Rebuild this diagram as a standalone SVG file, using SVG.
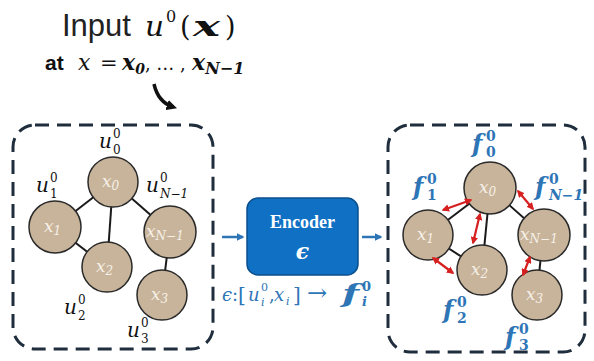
<svg xmlns="http://www.w3.org/2000/svg" width="594" height="361" viewBox="0 0 594 361">
<defs>
<style>
.box{fill:none;stroke:#1F2D3D;stroke-width:3;stroke-dasharray:14 8}
.nd{fill:#C8B49A;stroke:#2A2A2A;stroke-width:1.5}
.nl{font-family:"DejaVu Serif",serif;font-style:italic;fill:#F6F0E8;font-size:17px}
.ns{font-size:12px}
.m{font-family:"DejaVu Serif",serif;font-style:italic;fill:#111}
.f{font-family:"DejaVu Serif",serif;font-style:italic;font-weight:bold;fill:#2E75B6}
.e{stroke:#1A1A1A;stroke-width:2;fill:none}
.r{stroke:#D62020;stroke-width:2.2;fill:none;marker-start:url(#rh);marker-end:url(#rh)}
.b{stroke:#2E75B6;stroke-width:2.5;fill:none;marker-end:url(#bh)}
</style>
<marker id="rh" viewBox="0 0 10 10" refX="8" refY="5" markerWidth="3.4" markerHeight="3.4" orient="auto-start-reverse"><path d="M0,0 L10,5 L0,10 z" fill="#D62020"/></marker>
<marker id="bh" viewBox="0 0 10 10" refX="8" refY="5" markerWidth="3" markerHeight="3" orient="auto"><path d="M0,0 L10,5 L0,10 z" fill="#2E75B6"/></marker>
<marker id="kh" viewBox="0 0 10 10" refX="6" refY="5" markerWidth="3" markerHeight="3" orient="auto"><path d="M0,0 L10,5 L0,10 z" fill="#111"/></marker>
</defs>
<rect width="594" height="361" fill="#fff"/>

<g id="title">
<text x="62" y="36" font-family="Liberation Sans,sans-serif" font-size="31" fill="#222">Input</text>
<text x="145" y="36" class="m" font-size="28" textLength="19" lengthAdjust="spacingAndGlyphs">u</text>
<text x="166" y="22" font-family="DejaVu Serif,serif" font-size="16" fill="#111">0</text>
<text x="180" y="36" font-family="DejaVu Serif,serif" font-size="27" fill="#111">(</text>
<text x="193" y="36" class="m" font-weight="bold" font-size="28" textLength="27" lengthAdjust="spacingAndGlyphs">x</text>
<text x="225" y="36" font-family="DejaVu Serif,serif" font-size="27" fill="#111">)</text>
<text x="45" y="70" font-family="Liberation Sans,sans-serif" font-weight="bold" font-size="21" fill="#111">at</text>
<text x="78" y="70" class="m" font-size="22">x</text>
<text x="100" y="70" font-family="DejaVu Serif,serif" font-size="21" fill="#111">=</text>
<text x="122" y="70" class="m" font-weight="bold" font-size="22">x<tspan font-size="14" dy="4">0</tspan><tspan dy="-4" font-style="normal" font-weight="normal" font-size="18">, … ,</tspan></text>
<text x="192" y="70" class="m" font-weight="bold" font-size="22">x<tspan font-size="16" dy="4">N−1</tspan></text>
<path d="M154,84 Q158,102 173,107" stroke="#111" stroke-width="3.5" fill="none" marker-end="url(#kh)"/>
</g>

<g id="input-graph">
<rect class="box" x="13" y="125" width="200" height="224" rx="22"/>
<g id="connectors-left">
<line class="e" x1="113" y1="182" x2="55" y2="227"/>
<line class="e" x1="113" y1="182" x2="107" y2="267"/>
<line class="e" x1="113" y1="182" x2="170" y2="232"/>
<line class="e" x1="55" y1="227" x2="107" y2="267"/>
<line class="e" x1="170" y1="232" x2="162" y2="295"/>
</g>
<g id="L-x0"><circle class="nd" cx="113" cy="182" r="25"/><text class="nl" x="102" y="187">x<tspan class="ns" dy="3">0</tspan></text></g>
<g id="L-x1"><circle class="nd" cx="55" cy="227" r="26"/><text class="nl" x="44" y="232">x<tspan class="ns" dy="3">1</tspan></text></g>
<g id="L-x2"><circle class="nd" cx="107" cy="267" r="25"/><text class="nl" x="96" y="272">x<tspan class="ns" dy="3">2</tspan></text></g>
<g id="L-xN"><circle class="nd" cx="170" cy="232" r="26"/><text class="nl" x="146" y="237">x<tspan class="ns" dy="3">N−1</tspan></text></g>
<g id="L-x3"><circle class="nd" cx="162" cy="295" r="25"/><text class="nl" x="151" y="300">x<tspan class="ns" dy="3">3</tspan></text></g>
<g id="u-labels" class="m">
<text x="99" y="148" font-size="20">u</text><text x="113" y="138" font-size="12" font-style="normal">0</text><text x="113" y="154" font-size="12" font-style="normal">0</text>
<text x="36" y="192" font-size="20">u</text><text x="50" y="182" font-size="12" font-style="normal">0</text><text x="50" y="198" font-size="12" font-style="normal">1</text>
<text x="146" y="192" font-size="20">u</text><text x="160" y="182" font-size="12" font-style="normal">0</text><text x="160" y="198" font-size="12">N−1</text>
<text x="64" y="314" font-size="20">u</text><text x="78" y="304" font-size="12" font-style="normal">0</text><text x="78" y="320" font-size="12" font-style="normal">2</text>
<text x="127" y="337" font-size="20">u</text><text x="141" y="327" font-size="12" font-style="normal">0</text><text x="141" y="343" font-size="12" font-style="normal">3</text>
</g>
</g>

<g id="encoder">
<rect x="247" y="198" width="111" height="77" rx="11" fill="#0F70C4" stroke="#0B4F8C" stroke-width="1.5"/>
<text x="302.5" y="228" text-anchor="middle" font-family="Liberation Serif,serif" font-weight="bold" font-size="18" fill="#fff">Encoder</text>
<text x="302.5" y="259" text-anchor="middle" font-family="DejaVu Serif,serif" font-style="italic" font-weight="bold" font-size="22" fill="#fff">ϵ</text>
<g font-family="DejaVu Serif,serif" font-size="18" fill="#2E75B6">
<text x="222" y="301" font-style="italic">ϵ</text>
<text x="232" y="301">:</text>
<text x="238" y="302" font-size="20">[</text>
<text x="248" y="301" font-style="italic">u</text>
<text x="261" y="291" font-size="11">0</text><text x="261" y="306" font-size="11" font-style="italic">i</text>
<text x="269" y="301">,</text>
<text x="274" y="301" font-style="italic">x</text>
<text x="286" y="305" font-size="11" font-style="italic">i</text>
<text x="293" y="302" font-size="20">]</text>
<text x="307" y="301" font-size="24">→</text>
<text x="342" y="302" font-size="24" font-style="italic" font-weight="bold" textLength="17" lengthAdjust="spacingAndGlyphs">f</text>
<text x="362" y="291" font-size="13" font-weight="bold">0</text><text x="362" y="306" font-size="13" font-style="italic" font-weight="bold">i</text>
</g>
</g>

<g id="connectors">
<line class="b" x1="222" y1="237" x2="243" y2="237"/>
<line class="b" x1="362" y1="237" x2="381" y2="237"/>
</g>

<g id="output-graph">
<rect class="box" x="388" y="125" width="197" height="227" rx="22"/>
<g id="connectors-right">
<line class="e" x1="490" y1="188" x2="428" y2="235"/>
<line class="e" x1="490" y1="188" x2="482" y2="270"/>
<line class="e" x1="490" y1="188" x2="543" y2="235"/>
<line class="e" x1="428" y1="235" x2="482" y2="270"/>
<line class="e" x1="543" y1="235" x2="537" y2="295"/>
</g>
<g id="R-x0"><circle class="nd" cx="490" cy="188" r="26"/><text class="nl" x="479" y="193">x<tspan class="ns" dy="3">0</tspan></text></g>
<g id="R-x1"><circle class="nd" cx="428" cy="235" r="25"/><text class="nl" x="417" y="240">x<tspan class="ns" dy="3">1</tspan></text></g>
<g id="R-x2"><circle class="nd" cx="482" cy="270" r="25"/><text class="nl" x="471" y="275">x<tspan class="ns" dy="3">2</tspan></text></g>
<g id="R-xN"><circle class="nd" cx="544" cy="235" r="26"/><text class="nl" x="520" y="240">x<tspan class="ns" dy="3">N−1</tspan></text></g>
<g id="R-x3"><circle class="nd" cx="537" cy="295" r="25"/><text class="nl" x="526" y="300">x<tspan class="ns" dy="3">3</tspan></text></g>
<g id="messages">
<line class="r" x1="443" y1="210" x2="471" y2="200"/>
<line class="r" x1="480" y1="214" x2="473" y2="243"/>
<line class="r" x1="433" y1="258" x2="453" y2="273"/>
<line class="r" x1="518" y1="191" x2="533" y2="209"/>
<line class="r" x1="530" y1="257" x2="523" y2="275"/>
</g>
<g id="f-labels" class="f">
<text x="472" y="152" font-size="24">f</text><text x="486" y="141" font-size="14" font-style="normal">0</text><text x="486" y="157" font-size="14" font-style="normal">0</text>
<text x="413" y="195" font-size="24">f</text><text x="427" y="184" font-size="14" font-style="normal">0</text><text x="427" y="200" font-size="14" font-style="normal">1</text>
<text x="535" y="195" font-size="24">f</text><text x="549" y="184" font-size="14" font-style="normal">0</text><text x="549" y="200" font-size="14">N−1</text>
<text x="443" y="318" font-size="24">f</text><text x="457" y="307" font-size="14" font-style="normal">0</text><text x="457" y="323" font-size="14" font-style="normal">2</text>
<text x="505" y="345" font-size="24">f</text><text x="519" y="334" font-size="14" font-style="normal">0</text><text x="519" y="350" font-size="14" font-style="normal">3</text>
</g>
</g>
</svg>
